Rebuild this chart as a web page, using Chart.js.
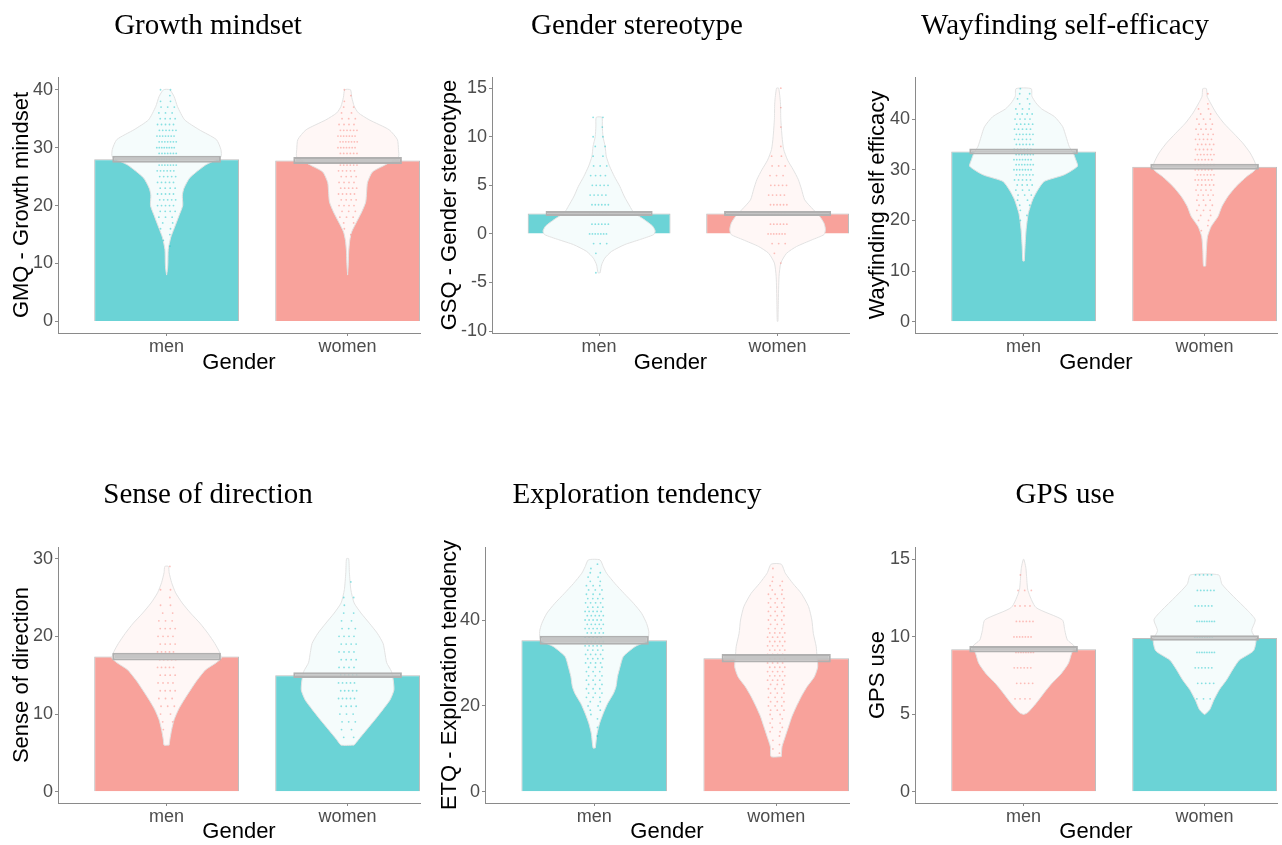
<!DOCTYPE html>
<html>
<head>
<meta charset="utf-8">
<script src="https://cdn.jsdelivr.net/npm/chart.js@4.4.0/dist/chart.umd.min.js"></script>
<style>
  body { margin: 0; background: #fff; width: 1282px; height: 845px; overflow: hidden; position: relative; }
  canvas { position: absolute; }
</style>
</head>
<body>
<canvas id="c1" width="432" height="385" style="left:-8px;top:0"></canvas>
<canvas id="c2" width="432" height="385" style="left:421px;top:0"></canvas>
<canvas id="c3" width="432" height="385" style="left:849px;top:0"></canvas>
<canvas id="c4" width="432" height="385" style="left:-8px;top:460px"></canvas>
<canvas id="c5" width="432" height="385" style="left:421px;top:460px"></canvas>
<canvas id="c6" width="432" height="385" style="left:849px;top:460px"></canvas>
<script>
const genders = ['men', 'women'];

// Growth mindset
const gmqMeans = [28.0, 27.8];
const gmqSe = [0.6, 0.6];
const gmqTicks = [0, 10, 20, 30, 40];
const gmqMenViolin = [[8,0],[9,0.005],[10,0.007],[12.4,0.009],[14.5,0.023],[16,0.041],[18.3,0.069],[20,0.089],[21.8,0.087],[23,0.096],[24.8,0.128],[27,0.215],[28.4,0.3],[29.7,0.3],[31.4,0.275],[33.1,0.18],[34.8,0.1],[37.1,0.06],[38.8,0.042],[40,0.017]];
const gmqWomenViolin = [[8,0],[10,0.004],[12,0.006],[14,0.012],[15.5,0.023],[17.2,0.05],[18.9,0.078],[20.6,0.1],[22.3,0.105],[24,0.11],[25.8,0.137],[27,0.206],[28.4,0.281],[29.7,0.281],[31.4,0.275],[33.1,0.229],[34.8,0.12],[36,0.06],[37.1,0.037],[38.7,0.023],[40,0.016]];
const gmqMenDots = [[13,1],[14,1],[15,1],[16,2],[17,2],[18,3],[19,4],[20,5],[21,5],[22,5],[23,4],[24,5],[25,5],[26,6],[27,7],[28,8],[29,7],[30,8],[31,7],[32,7],[33,6],[34,5],[35,4],[36,3],[37,3],[38,2],[39,1],[40,2]];
const gmqWomenDots = [[15,1],[16,1],[17,2],[18,3],[19,3],[20,4],[21,4],[22,5],[23,5],[24,4],[25,4],[26,5],[27,6],[28,7],[29,6],[30,7],[31,7],[32,7],[33,6],[34,4],[35,3],[36,2],[37,2],[38,1],[39,1],[40,1]];

// Gender stereotype
const gsqMeans = [2.1, 2.1];
const gsqSe = [0.27, 0.27];
const gsqTicks = [-10, -5, 0, 5, 10, 15];
const gsqMenViolin = [[-4,0.006],[-3.2,0.014],[-2.5,0.032],[-1.8,0.07],[-1.1,0.144],[-0.6,0.226],[-0.07,0.306],[0.3,0.314],[0.8,0.3],[1.5,0.25],[2.2,0.194],[2.85,0.172],[3.9,0.14],[4.9,0.116],[5.9,0.086],[7,0.058],[8,0.04],[9,0.034],[10,0.022],[11.1,0.018],[12,0.016]];
const gsqWomenViolin = [[-9,0.002],[-7.1,0.004],[-4.4,0.008],[-3,0.018],[-2,0.05],[-1.3,0.106],[-0.6,0.194],[-0.07,0.26],[0.45,0.268],[1.1,0.26],[1.8,0.236],[2.5,0.2],[3.5,0.152],[4.6,0.134],[5.6,0.116],[6.6,0.088],[7.6,0.056],[8.7,0.034],[10,0.025],[11.8,0.018],[13.5,0.016],[15,0.006]];
const gsqMenDots = [[-4,1],[-2,1],[-1,3],[0,7],[1,6],[2,6],[3,6],[4,5],[5,5],[6,4],[7,3],[8,2],[9,2],[10,2],[11,1],[12,2]];
const gsqWomenDots = [[-3,1],[-2,1],[-1,3],[0,7],[1,6],[2,6],[3,6],[4,5],[5,5],[6,3],[7,3],[8,2],[9,1],[11,1],[13,1],[15,1]];

// Wayfinding self-efficacy
const wseMeans = [33.6, 30.6];
const wseSe = [0.6, 0.6];
const wseTicks = [0, 10, 20, 30, 40];
const wseMenViolin = [[12,0.004],[14.9,0.008],[18.2,0.014],[21.4,0.026],[24.1,0.05],[26,0.078],[27.7,0.114],[29,0.224],[30.7,0.298],[32,0.288],[33.3,0.274],[34.6,0.252],[36.6,0.234],[38.5,0.216],[40.5,0.17],[42,0.1],[43.2,0.068],[44.5,0.046],[46,0.042]];
const wseWomenViolin = [[11,0.006],[14.2,0.01],[16.8,0.016],[18.8,0.036],[20.8,0.074],[22.8,0.096],[24.7,0.128],[26.7,0.174],[28.7,0.234],[30,0.28],[31.3,0.28],[33.3,0.252],[35.3,0.21],[37.2,0.16],[39.2,0.106],[41.2,0.064],[43.2,0.032],[44.5,0.014],[46,0.01]];
const wseMenDots = [[20,1],[21,1],[22,1],[23,2],[24,2],[25,3],[26,3],[27,4],[28,5],[29,6],[30,7],[31,7],[32,7],[33,7],[34,6],[35,6],[36,5],[37,6],[38,5],[39,5],[40,4],[41,4],[42,3],[43,2],[44,2],[45,2],[46,1]];
const wseWomenDots = [[18,1],[19,1],[20,2],[21,2],[22,3],[23,3],[24,3],[25,4],[26,4],[27,5],[28,6],[29,6],[30,6],[31,6],[32,6],[33,6],[34,5],[35,5],[36,5],[37,4],[38,4],[39,3],[40,3],[41,2],[42,2],[43,1],[45,1]];

// Sense of direction
const sodMeans = [17.4, 15.0];
const sodSe = [0.5, 0.37];
const sodTicks = [0, 10, 20, 30];
const sodMenViolin = [[6,0.014],[6.7,0.018],[8,0.028],[9.3,0.042],[10.6,0.066],[11.8,0.096],[13.1,0.132],[14.4,0.17],[15.7,0.216],[16.6,0.274],[17.2,0.302],[18,0.292],[19.1,0.266],[20.4,0.228],[21.7,0.184],[23,0.132],[24.3,0.086],[25.6,0.05],[26.9,0.028],[28.2,0.014],[29,0.01]];
const sodWomenViolin = [[6,0.036],[6.7,0.06],[8,0.106],[9.3,0.152],[10.6,0.196],[11.8,0.234],[13.1,0.256],[14.4,0.252],[15.5,0.242],[16.6,0.216],[17.9,0.206],[19.1,0.196],[20.4,0.164],[21.7,0.12],[23,0.074],[24.3,0.036],[26,0.018],[28.2,0.01],[30,0.006]];
const sodMenDots = [[8,1],[9,2],[10,2],[11,3],[12,3],[13,4],[14,4],[15,4],[16,5],[17,5],[18,5],[19,4],[20,4],[21,4],[22,3],[23,2],[24,2],[25,1],[26,2],[29,1]];
const sodWomenDots = [[7,2],[8,2],[9,3],[10,3],[11,4],[12,5],[13,5],[14,5],[15,5],[16,4],[17,4],[18,4],[19,4],[20,4],[21,3],[22,2],[23,2],[24,1],[25,2],[27,1]];

// Exploration tendency
const etqMeans = [35.3, 31.1];
const etqSe = [1.05, 1.0];
const etqTicks = [0, 20, 40];
const etqMenViolin = [[10.2,0.006],[13.6,0.016],[16,0.03],[18.3,0.05],[20.6,0.074],[22.9,0.106],[24.5,0.12],[26.8,0.128],[29.1,0.142],[31.5,0.16],[33.8,0.224],[35.3,0.294],[37.3,0.3],[39.2,0.288],[41.6,0.26],[43.9,0.216],[46.2,0.164],[48.5,0.114],[50.9,0.068],[52.4,0.05],[54,0.032]];
const etqWomenViolin = [[8.2,0.028],[10.5,0.032],[12.9,0.05],[15.2,0.068],[17.5,0.086],[19.8,0.11],[22.2,0.138],[24.5,0.17],[26.8,0.21],[29.1,0.228],[31.5,0.224],[33.8,0.22],[36.9,0.204],[40,0.196],[43.1,0.178],[46.2,0.138],[48.5,0.092],[50.9,0.05],[53,0.028]];
const etqMenDots = [[13,1],[15,1],[17,1],[18,1],[19,2],[20,2],[21,2],[22,3],[23,3],[24,3],[25,3],[26,3],[27,3],[28,3],[29,3],[30,4],[31,4],[32,4],[33,4],[34,5],[35,5],[36,5],[37,5],[38,5],[39,5],[40,5],[41,5],[42,5],[43,4],[44,4],[45,4],[46,3],[47,3],[48,3],[49,2],[50,2],[51,2],[52,1],[53,1]];
const etqWomenDots = [[9,1],[10,1],[11,1],[12,1],[13,1],[14,2],[15,2],[16,2],[17,2],[18,2],[19,3],[20,3],[21,3],[22,3],[23,3],[24,3],[25,3],[26,4],[27,4],[28,4],[29,4],[30,4],[31,4],[32,4],[33,4],[34,4],[35,4],[36,4],[37,4],[38,3],[39,3],[40,3],[41,3],[42,3],[43,3],[44,3],[45,3],[46,3],[47,2],[48,2],[49,2],[50,1],[52,1]];

// GPS use
const gpsMeans = [9.2, 9.93];
const gpsSe = [0.21, 0.18];
const gpsTicks = [0, 5, 10, 15];
const gpsMenViolin = [[5,0.002],[5.1,0.022],[5.7,0.068],[6.4,0.114],[7,0.156],[7.6,0.206],[8.3,0.248],[8.9,0.264],[9.4,0.28],[9.8,0.242],[10.4,0.228],[11.1,0.214],[11.9,0.068],[13,0.024],[14,0.016],[14.5,0.012],[15,0.002]];
const gpsWomenViolin = [[5,0.002],[5.3,0.028],[5.9,0.05],[6.6,0.082],[7.2,0.12],[7.9,0.156],[8.5,0.192],[9.1,0.27],[9.8,0.284],[10.4,0.26],[11.1,0.28],[11.7,0.238],[12.6,0.16],[13.4,0.096],[14,0.078]];
const gpsMenDots = [[6,4],[7,5],[8,6],[9,8],[10,7],[11,6],[12,4],[13,3],[14,1]];
const gpsWomenDots = [[6,3],[7,5],[8,6],[9,8],[10,8],[11,8],[12,6],[13,6],[14,5]];

const TEAL = { bar: '#6bd3d6', violin: '#f5fcfc', dot: 'rgba(0,191,196,0.45)' };
const SALMON = { bar: '#f8a29b', violin: '#fff7f6', dot: 'rgba(248,118,109,0.45)' };
const AXIS = '#8a8a8a';

Chart.defaults.font.family = "'Liberation Sans', Arial, sans-serif";

const panels = [
  { id: 'c1', row: 0, title: 'Growth mindset', yTitle: 'GMQ - Growth mindset', means: gmqMeans, se: gmqSe, ticks: gmqTicks,
    violins: [gmqMenViolin, gmqWomenViolin], dots: [gmqMenDots, gmqWomenDots], colors: [TEAL, SALMON], yMin: -2, yMax: 42.2, yWidth: 66, yPad: 16.8 },
  { id: 'c2', row: 0, title: 'Gender stereotype', yTitle: 'GSQ - Gender stereotype', means: gsqMeans, se: gsqSe, ticks: gsqTicks,
    violins: [gsqMenViolin, gsqWomenViolin], dots: [gsqMenDots, gsqWomenDots], colors: [TEAL, SALMON], yMin: -10.2, yMax: 16.15, yWidth: 71, yPad: 15.8 },
  { id: 'c3', row: 0, title: 'Wayfinding self-efficacy', yTitle: 'Wayfinding self efficacy', means: wseMeans, se: wseSe, ticks: wseTicks,
    violins: [wseMenViolin, wseWomenViolin], dots: [wseMenDots, wseWomenDots], colors: [TEAL, SALMON], yMin: -2.2, yMax: 48.3, yWidth: 66, yPad: 15.8 },
  { id: 'c4', row: 1, title: 'Sense of direction', yTitle: 'Sense of direction', means: sodMeans, se: sodSe, ticks: sodTicks,
    violins: [sodMenViolin, sodWomenViolin], dots: [sodMenDots, sodWomenDots], colors: [SALMON, TEAL], yMin: -1.45, yMax: 31.5, yWidth: 66, yPad: 16.8 },
  { id: 'c5', row: 1, title: 'Exploration tendency', yTitle: 'ETQ - Exploration tendency', means: etqMeans, se: etqSe, ticks: etqTicks,
    violins: [etqMenViolin, etqWomenViolin], dots: [etqMenDots, etqWomenDots], colors: [TEAL, SALMON], yMin: -2.6, yMax: 57, yWidth: 64, yPad: 15.8 },
  { id: 'c6', row: 1, title: 'GPS use', yTitle: 'GPS use', means: gpsMeans, se: gpsSe, ticks: gpsTicks,
    violins: [gpsMenViolin, gpsWomenViolin], dots: [gpsMenDots, gpsWomenDots], colors: [SALMON, TEAL], yMin: -0.72, yMax: 15.8, yWidth: 66, yPad: 15.8 }
];

// closed outline: up the right side, back down the left side
function violinPoints(pairs, center) {
  const right = pairs.map(p => ({ x: center + p[1], y: p[0] }));
  const left = pairs.slice().reverse().map(p => ({ x: center - p[1], y: p[0] }));
  return right.concat(left, [right[0]]);
}

// each row of points spread across a narrow band, alternate rows nudged
function dotPoints(pairs, center) {
  const pts = [];
  pairs.forEach(([v, n]) => {
    const nudge = (Math.round(v) % 2 === 0) ? -0.006 : 0.006;
    for (let k = 0; k < n; k++) {
      const x = n === 1 ? center + nudge * 3 : center + 0.11 * ((k + 0.5) / n - 0.5) + nudge;
      pts.push({ x, y: v });
    }
  });
  return pts;
}

function makePanel(p) {
  const datasets = [];

  datasets.push({
    type: 'bar',
    data: p.means.map((m, i) => ({ x: i + 1, y: m })),
    backgroundColor: p.colors.map(c => c.bar),
    borderColor: 'rgba(110,110,110,0.45)',
    borderWidth: 1,
    grouped: false,
    categoryPercentage: 1,
    barPercentage: 0.8,
    order: 4
  });

  p.violins.forEach((v, i) => {
    datasets.push({
      type: 'line',
      data: violinPoints(v, i + 1),
      fill: 'shape',
      backgroundColor: p.colors[i].violin,
      borderColor: '#e2e2e2',
      borderWidth: 1,
      tension: 0.2,
      pointRadius: 0,
      order: 3
    });
  });

  p.dots.forEach((d, i) => {
    datasets.push({
      type: 'scatter',
      data: dotPoints(d, i + 1),
      backgroundColor: p.colors[i].dot,
      borderWidth: 0,
      pointRadius: 0.9,
      order: 2
    });
  });

  // mean +/- standard error
  datasets.push({
    type: 'bar',
    data: p.means.map((m, i) => ({ x: i + 1, y: [m - p.se[i], m + p.se[i]] })),
    backgroundColor: 'rgba(192,192,192,0.92)',
    borderColor: '#b0b0b0',
    borderWidth: 2,
    borderSkipped: false,
    grouped: false,
    categoryPercentage: 1,
    barPercentage: 0.6,
    order: 1
  });

  const top = p.row === 0;

  new Chart(document.getElementById(p.id), {
    type: 'scatter',
    data: { datasets },
    options: {
      responsive: false,
      animation: false,
      layout: { padding: 0 },
      plugins: {
        legend: { display: false },
        tooltip: { enabled: false },
        title: {
          display: true,
          text: p.title,
          color: '#000',
          font: { family: "'Liberation Serif', 'Times New Roman', serif", size: 29, weight: 'normal' },
          padding: top ? { top: 8.6, bottom: 33.6 } : { top: 17.6, bottom: 34.6 }
        }
      },
      scales: {
        x: {
          type: 'linear',
          min: 0.4,
          max: 2.4,
          offset: false,
          afterBuildTicks: s => { s.ticks = [{ value: 1 }, { value: 2 }]; },
          afterFit: s => { s.height = top ? 52 : 42; },
          ticks: { callback: v => genders[v - 1], color: '#4d4d4d', font: { size: 18 }, padding: 0, autoSkip: false, maxRotation: 0 },
          grid: { drawOnChartArea: false, offset: false, tickLength: 3, color: AXIS },
          border: { color: AXIS, width: 1 },
          title: { display: true, text: 'Gender', color: '#000', font: { size: 22 }, padding: { top: 0, bottom: top ? 8.8 : 0 } }
        },
        y: {
          type: 'linear',
          min: p.yMin,
          max: p.yMax,
          afterBuildTicks: s => { s.ticks = p.ticks.map(v => ({ value: v })); },
          afterFit: s => { s.width = p.yWidth; },
          ticks: { color: '#4d4d4d', font: { size: 18 }, padding: 2 },
          grid: { drawOnChartArea: false, tickLength: 3, color: AXIS },
          border: { color: AXIS, width: 1 },
          title: { display: true, text: p.yTitle, color: '#000', font: { size: 22 }, padding: { top: p.yPad, bottom: 0 } }
        }
      }
    }
  });
}

panels.forEach(makePanel);
</script>
</body>
</html>
